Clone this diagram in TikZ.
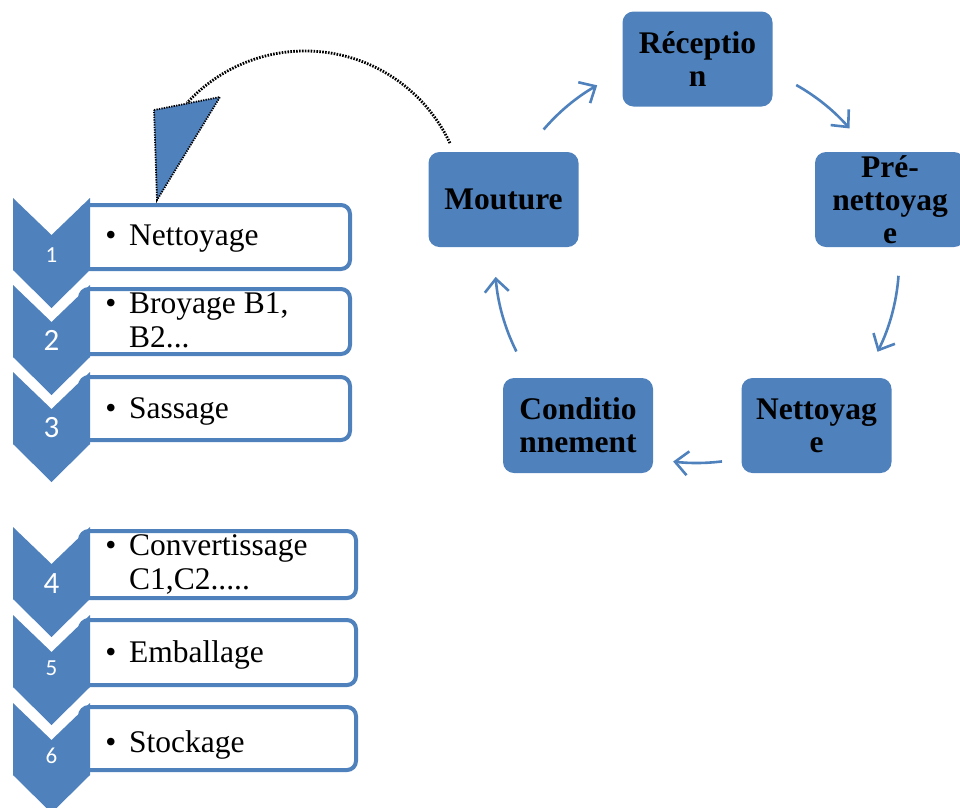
\documentclass[tikz,border=0pt]{standalone}
\usepackage{fontspec}
\setmainfont{Liberation Serif}
\newfontfamily\numfont{Carlito}
\usetikzlibrary{arrows.meta}
\definecolor{ofblue}{HTML}{4F81BD}
\begin{document}
\begin{tikzpicture}[x=1pt,y=-1pt,
  chev/.style={fill=ofblue,draw=none},
  stepbox/.style={draw=ofblue,line width=4pt,rounded corners=9pt,fill=white,minimum width=270pt,inner sep=0pt},
  bigbox/.style={fill=ofblue,rounded corners=11pt,minimum width=150pt,minimum height=95pt,inner sep=0pt,align=center,
    font=\bfseries\fontsize{31.5}{33}\selectfont},
  itemtxt/.style={anchor=base west,inner sep=0pt,font=\fontsize{31.5}{34}\selectfont},
  bul/.style={anchor=base,inner sep=0pt,font=\fontsize{31.5}{34}\selectfont},
  numbig/.style={text=white,anchor=base,inner sep=0pt,font=\numfont\fontsize{31}{34}\selectfont},
  numsmall/.style={text=white,anchor=base,inner sep=0pt,font=\numfont\fontsize{23}{26}\selectfont},
  cyc/.style={draw=ofblue,line width=2.6pt,-{Straight Barb[length=13pt,width=24pt]}},
  dotline/.style={draw=black,line width=2.8pt,dash pattern=on 1.6pt off 1.3pt}
]
\useasboundingbox (0,0) rectangle (960,807);

% ---- left list boxes
\node[stepbox,minimum height=64pt] (b1) at (215,237) {};
\node[stepbox,minimum height=65pt] (b2) at (215,321.5) {};
\node[stepbox,minimum height=63pt] (b3) at (215,408.5) {};
\node[stepbox,minimum width=276pt,minimum height=67pt] (b4) at (218,564.5) {};
\node[stepbox,minimum width=276pt,minimum height=65pt] (b5) at (218,652.5) {};
\node[stepbox,minimum width=276pt,minimum height=63pt] (b6) at (218,738.5) {};

% ---- chevrons
\foreach \t in {198,285,372,527,615,703}{
  \fill[chev] (13,\t) -- (51.5,\t+37) -- (90,\t) -- (90,\t+72) -- (51.5,\t+110) -- (13,\t+72) -- cycle;
}

% ---- numbers
\node[numsmall] (n1) at (51.5,262) {1};
\node[numbig]   (n2) at (51.5,350) {2};
\node[numbig]   (n3) at (51.5,437) {3};
\node[numbig]   (n4) at (51.5,593) {4};
\node[numsmall] (n5) at (51.5,675) {5};
\node[numsmall] (n6) at (51.5,763) {6};

% ---- bullets and texts
\node[bul] (u1) at (111,245) {•};
\node[itemtxt] (t1) at (129,245) {Nettoyage};
\node[bul] (u2) at (111,313) {•};
\node[itemtxt] (t2) at (129,313) {\vtop{\hbox{Broyage B1,}\hbox{B2...}}};
\node[bul] (u3) at (111,418) {•};
\node[itemtxt] (t3) at (129,418) {Sassage};
\node[bul] (u4) at (111,555) {•};
\node[itemtxt] (t4) at (129,555) {\vtop{\hbox{Convertissage}\hbox{C1,C2.....}}};
\node[bul] (u5) at (111,662) {•};
\node[itemtxt] (t5) at (129,662) {Emballage};
\node[bul] (u6) at (111,752) {•};
\node[itemtxt] (t6) at (129,752) {Stockage};

% ---- cycle boxes
\node[bigbox] (rec)  at (697.5,59)    {Réceptio\\n};
\node[bigbox] (pre)  at (890,199.5)   {Pré-\\nettoyag\\e};
\node[bigbox] (net)  at (816.5,425.5) {Nettoyag\\e};
\node[bigbox] (cond) at (578,425.5)   {Conditio\\nnement};
\node[bigbox] (mou)  at (503.5,199.5) {Mouture};

% ---- cycle arrows (arcs on a circle centred at (697,261), r=202)
\coordinate (a1) at (543.6,129.5);
\coordinate (a2) at (796.2,85.0);
\coordinate (a3) at (898.5,275.8);
\coordinate (a4) at (722.0,461.4);
\coordinate (a5) at (516.4,351.5);
\draw[cyc] (a1) arc[start angle=-139.4,end angle=-119.6,radius=202];
\draw[cyc] (a2) arc[start angle=-60.6,end angle=-41,radius=202];
\draw[cyc] (a3) arc[start angle=4.2,end angle=26.7,radius=202];
\draw[cyc] (a4) arc[start angle=82.9,end angle=96.8,radius=202];
\draw[cyc] (a5) arc[start angle=-206.6,end angle=-184.5,radius=202];

% ---- dotted return arrow
\coordinate (d0) at (449.9,143.1);
\draw[dotline] (d0) arc[start angle=-25.1,end angle=-137.5,radius=160] coordinate (d1);
\filldraw[fill=ofblue,draw=black,line width=1.8pt,dash pattern=on 1.3pt off 1.2pt]
  (154,110) -- (220,97) -- (157,200) -- cycle;
\end{tikzpicture}
\end{document}
